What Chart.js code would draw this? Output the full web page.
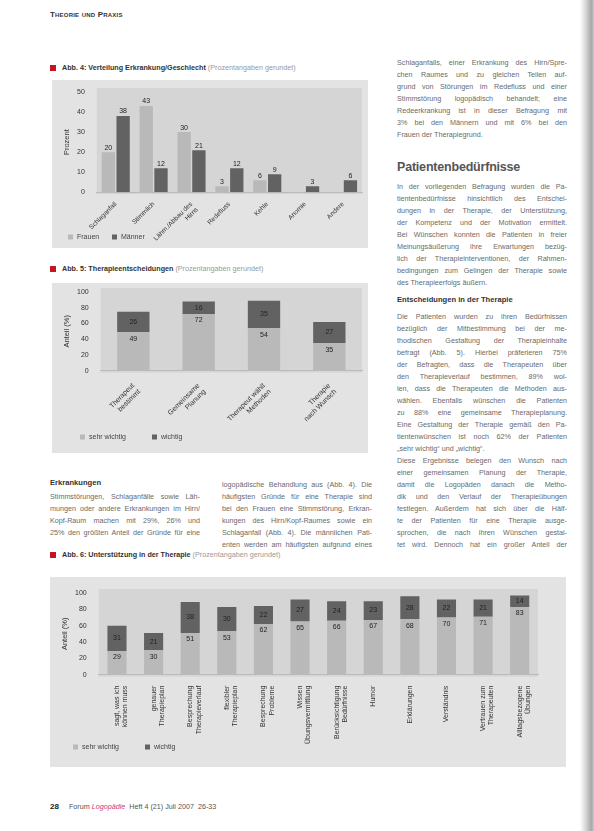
<!DOCTYPE html>
<html lang="de">
<head>
<meta charset="utf-8">
<script src="https://cdn.jsdelivr.net/npm/chart.js@4/dist/chart.umd.min.js"></script>
<style>
body{margin:0;width:594px;height:831px;background:#fff;position:relative;overflow:hidden;font-family:"Liberation Sans",Arial,sans-serif;color:#6a6a6a}
.abs{position:absolute}
.head{left:50px;top:10px;font-size:8px;font-weight:bold;color:#333;font-variant:small-caps;letter-spacing:0.2px}
.cap{font-size:7.2px;color:#444;white-space:nowrap}
.cap b{color:#333}
.cap i{font-style:normal;color:#999}
.cap:before{content:"";display:inline-block;width:6px;height:6px;background:#c4161c;margin-right:6px;vertical-align:-1px}
.col{font-size:7.2px;line-height:12px}
.col div{text-align:justify;text-align-last:justify;white-space:nowrap;overflow:hidden}
.col div.e{text-align-last:left}
.h1{font-size:12.5px;color:#555;font-weight:bold;letter-spacing:-0.2px}
.h2{font-size:7.6px;font-weight:bold;color:#333}
.foot{left:50px;top:802px;font-size:7.2px;color:#555;white-space:nowrap}
.shadow{right:0;top:0;width:14px;height:831px;background:linear-gradient(to right,#fff,#d8d8d8 40%,#a8a8a8 80%,#c8c8c8)}
</style>
</head>
<body>
<div class="abs head">Theorie und Praxis</div>

<div class="abs cap" style="left:50px;top:63px"><b>Abb. 4: Verteilung Erkrankung/Geschlecht</b> <i>(Prozentangaben gerundet)</i></div>
<div class="abs" style="left:52px;top:80px;width:316px;height:168px"><canvas id="chart1" width="316" height="168"></canvas></div>

<div class="abs cap" style="left:50px;top:264px"><b>Abb. 5: Therapieentscheidungen</b> <i>(Prozentangaben gerundet)</i></div>
<div class="abs" style="left:52px;top:283px;width:316px;height:170px"><canvas id="chart2" width="316" height="170"></canvas></div>

<div class="abs h2" style="left:50px;top:478px">Erkrankungen</div>
<div class="abs col" style="left:50px;top:491px;width:150px">
<div>Stimmstörungen, Schlaganfälle sowie Läh-</div>
<div>mungen oder andere Erkrankungen im Hirn/</div>
<div>Kopf-Raum machen mit 29%, 26% und</div>
<div>25% den größten Anteil der Gründe für eine</div>
</div>
<div class="abs col" style="left:222px;top:479px;width:150px">
<div>logopädische Behandlung aus (Abb. 4). Die</div>
<div>häufigsten Gründe für eine Therapie sind</div>
<div>bei den Frauen eine Stimmstörung, Erkran-</div>
<div>kungen des Hirn/Kopf-Raumes sowie ein</div>
<div>Schlaganfall (Abb. 4). Die männlichen Pati-</div>
<div>enten werden am häufigsten aufgrund eines</div>
</div>

<div class="abs col" style="left:397px;top:57px;width:170px">
<div>Schlaganfalls, einer Erkrankung des Hirn/Spre-</div>
<div>chen Raumes und zu gleichen Teilen auf-</div>
<div>grund von Störungen im Redefluss und einer</div>
<div>Stimmstörung logopädisch behandelt; eine</div>
<div>Redeerkrankung ist in dieser Befragung mit</div>
<div>3% bei den Männern und mit 6% bei den</div>
<div class="e">Frauen der Therapiegrund.</div>
</div>
<div class="abs h1" style="left:397px;top:160px">Patientenbedürfnisse</div>
<div class="abs col" style="left:397px;top:181px;width:170px">
<div>In der vorliegenden Befragung wurden die Pa-</div>
<div>tientenbedürfnisse hinsichtlich des Entschei-</div>
<div>dungen in der Therapie, der Unterstützung,</div>
<div>der Kompetenz und der Motivation ermittelt.</div>
<div>Bei Wünschen konnten die Patienten in freier</div>
<div>Meinungsäußerung ihre Erwartungen bezüg-</div>
<div>lich der Therapieinterventionen, der Rahmen-</div>
<div>bedingungen zum Gelingen der Therapie sowie</div>
<div class="e">des Therapieerfolgs äußern.</div>
</div>
<div class="abs h2" style="left:397px;top:295px">Entscheidungen in der Therapie</div>
<div class="abs col" style="left:397px;top:311px;width:170px">
<div>Die Patienten wurden zu ihren Bedürfnissen</div>
<div>bezüglich der Mitbestimmung bei der me-</div>
<div>thodischen Gestaltung der Therapieinhalte</div>
<div>befragt (Abb. 5). Hierbei präferieren 75%</div>
<div>der Befragten, dass die Therapeuten über</div>
<div>den Therapieverlauf bestimmen, 89% wol-</div>
<div>len, dass die Therapeuten die Methoden aus-</div>
<div>wählen. Ebenfalls wünschen die Patienten</div>
<div>zu 88% eine gemeinsame Therapieplanung.</div>
<div>Eine Gestaltung der Therapie gemäß den Pa-</div>
<div>tientenwünschen ist noch 62% der Patienten</div>
<div class="e">„sehr wichtig“ und „wichtig“.</div>
<div>Diese Ergebnisse belegen den Wunsch nach</div>
<div>einer gemeinsamen Planung der Therapie,</div>
<div>damit die Logopäden danach die Metho-</div>
<div>dik und den Verlauf der Therapieübungen</div>
<div>festlegen. Außerdem hat sich über die Hälf-</div>
<div>te der Patienten für eine Therapie ausge-</div>
<div>sprochen, die nach ihren Wünschen gestal-</div>
<div>tet wird. Dennoch hat ein großer Anteil der</div>
</div>

<div class="abs cap" style="left:50px;top:550px"><b>Abb. 6: Unterstützung in der Therapie</b> <i>(Prozentangaben gerundet)</i></div>
<div class="abs" style="left:50px;top:577px;width:516px;height:190px"><canvas id="chart3" width="516" height="190"></canvas></div>

<div class="abs foot"><b style="color:#222;font-size:8px">28</b>&nbsp;&nbsp;&nbsp;&nbsp; Forum <span style="color:#c8407a;font-style:italic">Logopädie</span> &nbsp;Heft 4 (21) Juli 2007 &nbsp;26-33</div>
<div class="abs shadow"></div>

<script>
// Abb. 4
var erkKategorien = ['Schlaganfall', 'Stimmlich', ['Lähm./Abbau des', 'Hirns'], 'Redefluss', 'Kehle', 'Anomie', 'Andere'];
var erkFrauen = [20, 43, 30, 3, 6, 0, 0];
var erkMaenner = [38, 12, 21, 12, 9, 3, 6];

// Abb. 5
var entKategorien = [['Therapeut', 'bestimmt'], ['Gemeinsame', 'Planung'], ['Therapeut wählt', 'Methoden'], ['Therapie', 'nach Wunsch']];
var entSehrWichtig = [49, 72, 54, 35];
var entWichtig = [26, 16, 35, 27];

// Abb. 6
var untKategorien = [['sagt, was ich', 'können muss'], ['genauer', 'Therapieplan'], ['Besprechung', 'Therapieverlauf'], ['flexibler', 'Therapieplan'],
	['Besprechung', 'Probleme'], ['Wissen', 'Übungsvermittlung'], ['Berücksichtigung', 'Bedürfnisse'], 'Humor', 'Erklärungen',
	'Verständnis', ['Vertrauen zum', 'Therapeuten'], ['Alltagsbezogene', 'Übungen']];
var untSehrWichtig = [29, 30, 51, 53, 62, 65, 66, 67, 68, 70, 71, 83];
var untWichtig = [31, 21, 38, 30, 22, 27, 24, 23, 28, 22, 21, 14];

var hell = '#b9b9b9';
var dunkel = '#626262';
var schrift = "'Liberation Sans', Arial, sans-serif";

Chart.defaults.font.family = schrift;
Chart.defaults.font.size = 7;
Chart.defaults.color = '#333';
Chart.defaults.animation = false;

// panel + plot background
var hintergrund = {
	id: 'hintergrund',
	beforeDraw: function(chart) {
		var c = chart.ctx, a = chart.chartArea;
		c.save();
		c.fillStyle = '#e3e3e3';
		c.fillRect(0, 0, chart.width, chart.height);
		c.fillStyle = '#d5d5d5';
		c.fillRect(a.left, a.top - 4, a.right - a.left, a.bottom - a.top + 6);
		c.restore();
	}
};

// value labels
var werte = {
	id: 'werte',
	afterDatasetsDraw: function(chart, args, opts) {
		var c = chart.ctx;
		c.save();
		c.font = '7px ' + schrift;
		c.fillStyle = '#222';
		c.textAlign = 'center';
		chart.data.datasets.forEach(function(ds, i) {
			chart.getDatasetMeta(i).data.forEach(function(bar, j) {
				var v = ds.data[j];
				if (!v) return;
				var y;
				if (opts.modus === 'oben') {
					c.textBaseline = 'bottom';
					y = bar.y - 1;
				} else if (i === 0) {
					c.textBaseline = 'top';
					y = bar.y + 3;
				} else {
					c.textBaseline = 'middle';
					y = (bar.y + bar.base) / 2;
				}
				c.fillText(v, bar.x, y);
			});
		});
		c.restore();
	}
};

// small legend at a fixed spot in the panel
var legende = {
	id: 'legende',
	afterDraw: function(chart, args, opts) {
		var c = chart.ctx;
		c.save();
		c.font = '7px ' + schrift;
		c.textBaseline = 'middle';
		c.textAlign = 'left';
		chart.data.datasets.forEach(function(ds, i) {
			var x = opts.x[i];
			c.fillStyle = ds.backgroundColor;
			c.fillRect(x, opts.y - 2.5, 5, 5);
			c.fillStyle = '#444';
			c.fillText(ds.label, x + 9, opts.y);
		});
		c.restore();
	}
};

new Chart(document.getElementById('chart1'), {
	type: 'bar',
	data: {
		labels: erkKategorien,
		datasets: [
			{ label: 'Frauen', data: erkFrauen, backgroundColor: hell },
			{ label: 'Männer', data: erkMaenner, backgroundColor: dunkel }
		]
	},
	options: {
		responsive: false,
		layout: { padding: { top: 12, left: 8, right: 6, bottom: 0 } },
		categoryPercentage: 0.78,
		barPercentage: 0.9,
		plugins: {
			legend: { display: false },
			tooltip: { enabled: false },
			werte: { modus: 'oben' },
			legende: { x: [16, 60], y: 157 }
		},
		scales: {
			x: {
				grid: { display: false },
				border: { color: '#bbb' },
				ticks: { minRotation: 45, maxRotation: 45, padding: 0, font: { size: 6.6 } }
			},
			y: {
				min: 0, max: 50,
				ticks: { stepSize: 10, padding: 4 },
				grid: { display: false },
				border: { display: false },
				title: { display: true, text: 'Prozent', font: { size: 7.5 }, padding: 2 }
			}
		}
	},
	plugins: [hintergrund, werte, legende]
});

new Chart(document.getElementById('chart2'), {
	type: 'bar',
	data: {
		labels: entKategorien,
		datasets: [
			{ label: 'sehr wichtig', data: entSehrWichtig, backgroundColor: hell },
			{ label: 'wichtig', data: entWichtig, backgroundColor: dunkel }
		]
	},
	options: {
		responsive: false,
		layout: { padding: { top: 9, left: 8, right: 6, bottom: 21 } },
		categoryPercentage: 0.9,
		barPercentage: 0.55,
		plugins: {
			legend: { display: false },
			tooltip: { enabled: false },
			werte: { modus: 'stapel' },
			legende: { x: [28, 100], y: 154 }
		},
		scales: {
			x: {
				stacked: true,
				grid: { display: false },
				border: { color: '#bbb' },
				ticks: { minRotation: 45, maxRotation: 45, padding: 3 }
			},
			y: {
				stacked: true,
				min: 0, max: 100,
				ticks: { stepSize: 20, padding: 4 },
				grid: { display: false },
				border: { display: false },
				title: { display: true, text: 'Anteil (%)', font: { size: 7.5 }, padding: 2 }
			}
		}
	},
	plugins: [hintergrund, werte, legende]
});

new Chart(document.getElementById('chart3'), {
	type: 'bar',
	data: {
		labels: untKategorien,
		datasets: [
			{ label: 'sehr wichtig', data: untSehrWichtig, backgroundColor: hell },
			{ label: 'wichtig', data: untWichtig, backgroundColor: dunkel }
		]
	},
	options: {
		responsive: false,
		layout: { padding: { top: 16, left: 8, right: 28, bottom: 20 } },
		categoryPercentage: 0.9,
		barPercentage: 0.58,
		plugins: {
			legend: { display: false },
			tooltip: { enabled: false },
			werte: { modus: 'stapel' },
			legende: { x: [23, 95], y: 170 }
		},
		scales: {
			x: {
				stacked: true,
				grid: { display: false },
				border: { color: '#bbb' },
				ticks: { minRotation: 90, maxRotation: 90, padding: 3 }
			},
			y: {
				stacked: true,
				min: 0, max: 100,
				ticks: { stepSize: 20, padding: 4 },
				grid: { display: false },
				border: { display: false },
				title: { display: true, text: 'Anteil (%)', font: { size: 7.5 }, padding: 2 }
			}
		}
	},
	plugins: [hintergrund, werte, legende]
});
</script>
</body>
</html>
